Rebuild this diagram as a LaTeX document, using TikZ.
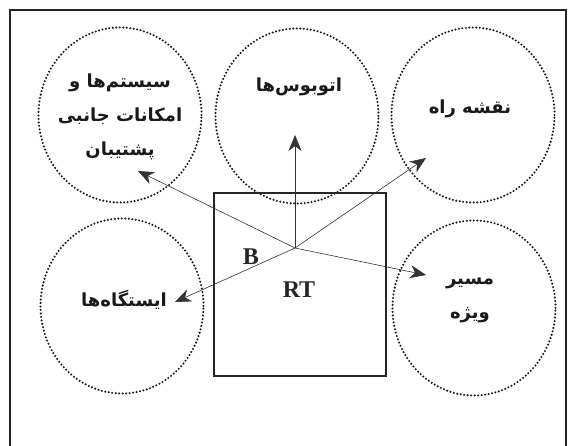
\documentclass[tikz,border=0pt]{standalone}
\usepackage{fontspec}
\setmainfont{Liberation Serif}
\newfontfamily\arabicfont[Script=Arabic,BoldFont={DejaVu Sans Bold}]{DejaVu Sans}
\TeXXeTstate=1
\usetikzlibrary{arrows.meta,shapes.geometric}
\begin{document}
\begin{tikzpicture}[x=1pt,y=-1pt,
  bubble/.style={draw,shape=ellipse,minimum width=163pt,minimum height=175pt,inner sep=0pt,
     line width=2.3pt,dash pattern=on 0pt off 3.5pt,line cap=round,color=black!90},
  fa/.style={font=\arabicfont\bfseries\fontsize{18}{34}\selectfont,align=center,inner sep=0pt,text=black!90},
  lat/.style={font=\bfseries\fontsize{24}{24}\selectfont,inner sep=0pt,text=black!85},
  conn/.style={line width=0.6pt,color=black!80,-{Stealth[length=16pt,width=13pt,inset=5pt]}},
  box/.style={draw,line width=1.4pt,minimum width=172pt,minimum height=183pt,inner sep=0pt,color=black!85}]
\useasboundingbox (0,0) rectangle (571,446);
\draw[line width=1.3pt,color=black!85] (10,450) -- (10,10) -- (566,10) -- (566,450);
% ellipses
\node[bubble] (e1) at (120,115) {};
\node[bubble] (e2) at (297,116) {};
\node[bubble] (e3) at (473,115) {};
\node[bubble] (e4) at (122,306) {};
\node[bubble] (e5) at (474,308) {};
% central box
\node[box] (rt) at (300,284.5) {};
% texts
\node[fa] (t1) at (120,117) {\beginR سیستم‌ها و\endR\\\beginR امکانات جانبی\endR\\\beginR پشتیبان\endR};
\node[fa] (t2) at (299,87) {\beginR اتوبوس‌ها\endR};
\node[fa] (t3) at (470,109) {\beginR نقشه راه\endR};
\node[fa] (t4) at (124,300) {\beginR ایستگاه‌ها\endR};
\node[fa] (t5) at (470,300) {\beginR مسیر\endR\\\beginR ویژه\endR};
\node[lat] (b) at (251,257) {B};
\node[lat] (rtl) at (299,290) {RT};
% arrows
\coordinate (c) at (295,248);
\coordinate (a1) at (138,171);
\coordinate (a2) at (295,135);
\coordinate (a3) at (426,158);
\coordinate (a4) at (175,302);
\coordinate (a5) at (426,275);
\draw[conn] (c) -- (a1);
\draw[conn] (c) -- (a2);
\draw[conn] (c) -- (a3);
\draw[conn] (c) -- (a4);
\draw[conn] (c) -- (a5);
\end{tikzpicture}
\end{document}
